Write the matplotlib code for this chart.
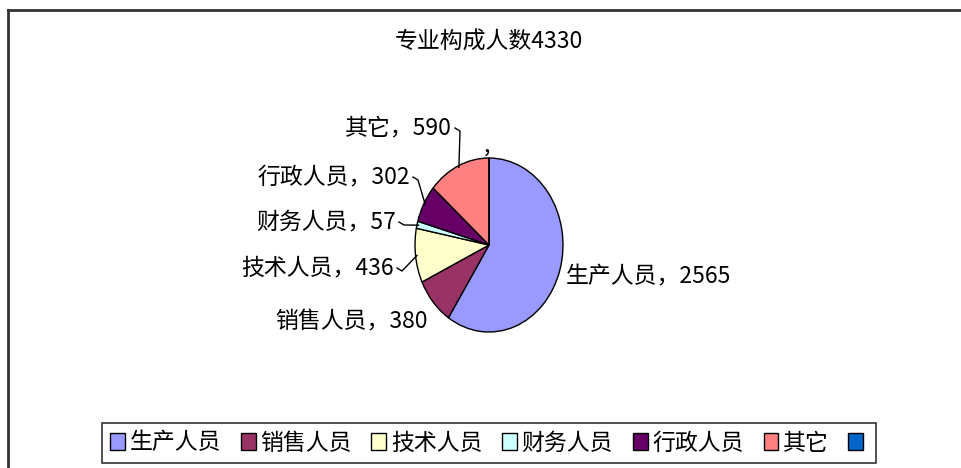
import matplotlib
matplotlib.use("Agg")
import matplotlib.pyplot as plt
from matplotlib.lines import Line2D
import numpy as np

plt.rcParams['font.family'] = ['Noto Sans CJK SC', 'DejaVu Sans']

title = '专业构成人数4330'
categories = ['生产人员', '销售人员', '技术人员', '财务人员', '行政人员', '其它', '']
values = [2565, 380, 436, 57, 302, 590, 0]
colors = ['#9999FF', '#993366', '#FFFFCC', '#CCFFFF', '#660066', '#FF8080', '#0066CC']

W, H = 961, 468
CX, CY = 489, 245      # pie centre, pixels from top-left
RX, RY = 74, 87        # the pie is a bit squashed in the picture
FS = 16.5


def px(x):
    return (x - CX) / RX


def py(y):
    return (CY - y) / RY


fig = plt.figure(figsize=(W / 100, H / 100), dpi=100)
ax = fig.add_axes([0, 0, 1, 1])

wedges, _ = ax.pie(values, colors=colors, startangle=90, counterclock=False,
                   radius=1, center=(0, 0),
                   wedgeprops=dict(edgecolor='black', linewidth=1.0))
ax.set_aspect('auto')
ax.set_xlim(px(0), px(W))
ax.set_ylim(py(H), py(0))
ax.axis('off')

# label layout: (x, y, ha) in pixels, and whether a leader line is drawn
label_pos = [
    (566, 277, 'left', False),
    (428, 322, 'right', False),
    (394, 268, 'right', True),
    (396, 222, 'right', True),
    (410, 177, 'right', True),
    (452, 128, 'right', True),
    (487, 146, 'center', False),
]

for w, cat, val, (lx, ly, ha, lead) in zip(wedges, categories, values, label_pos):
    txt = ',' if cat == '' else f'{cat}，{val}'
    ax.text(px(lx), py(ly), txt, ha=ha, va='center', fontsize=FS, color='black')
    if lead:
        mid = np.deg2rad((w.theta1 + w.theta2) / 2)
        ex, ey = np.cos(mid) * 0.98, np.sin(mid) * 0.98
        xs = [px(lx + 3), px(lx + 8), ex]
        ys = [py(ly), py(ly + 3), ey]
        ax.plot(xs, ys, color='black', linewidth=1.0)

fig.text(CX / W, 1 - 42 / H, title, ha='center', va='center', fontsize=FS)

leg = fig.legend(wedges, categories, loc='center', ncol=7,
                 bbox_to_anchor=(489 / W, 1 - 443 / H),
                 fontsize=FS, frameon=True, fancybox=False,
                 handlelength=0.65, handleheight=0.75, handletextpad=0.2,
                 columnspacing=0.86, borderpad=0.35, borderaxespad=0)
leg.get_frame().set_edgecolor('black')
leg.get_frame().set_linewidth(1.2)

# outer chart frame (left and top edges visible in the picture)
fig.add_artist(Line2D([8 / W, 8 / W], [0, 1 - 10 / H], color='#333333', linewidth=2))
fig.add_artist(Line2D([8 / W, 1], [1 - 10 / H, 1 - 10 / H], color='#333333', linewidth=2))

fig.savefig('out.png', dpi=100)
